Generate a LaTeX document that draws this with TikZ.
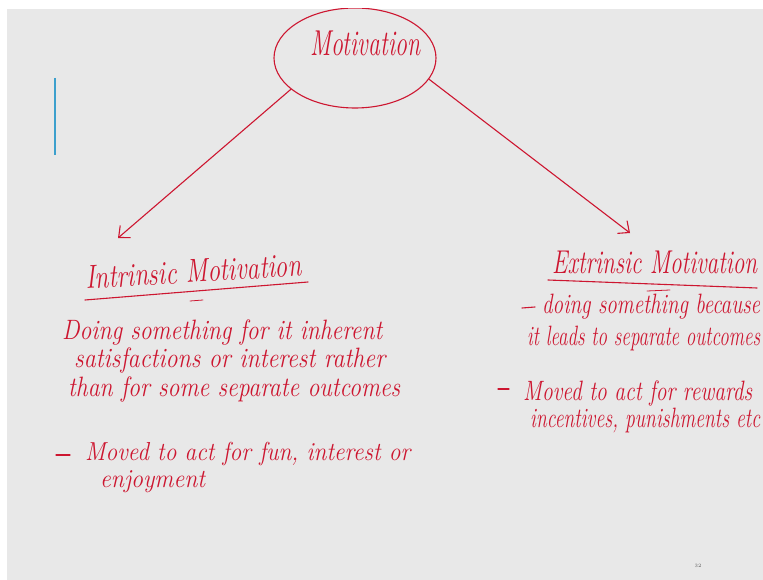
\documentclass[tikz,border=0pt]{standalone}
\usepackage{graphicx}
\usetikzlibrary{shapes.geometric,arrows.meta}
\definecolor{inkred}{RGB}{205,22,48}
\definecolor{slidebg}{RGB}{232,232,232}
\definecolor{cursorblue}{RGB}{60,160,205}
\definecolor{pagegray}{RGB}{90,90,90}
\newcommand{\hw}[2]{\resizebox{#1pt}{\height}{#2}}
\begin{document}
\begin{tikzpicture}[x=1pt,y=-1pt,
  hand/.style={text=inkred, anchor=base west, inner sep=0pt, font=\fontsize{28}{30}\selectfont\itshape},
  head/.style={hand, font=\fontsize{33}{35}\selectfont\itshape},
  ink/.style={draw=inkred, line width=1.1pt, line cap=round, line join=round},
  arr/.style={ink, -{Straight Barb[length=9pt,width=16pt]}}]
\useasboundingbox (0,0) rectangle (763,580);
\fill[white] (0,0) rectangle (763,580);
\fill[slidebg] (7,9) rectangle (763,580);
\begin{scope}
\clip (7,9) rectangle (763,580);
% cursor line
\draw[cursorblue, line width=1.3pt] (55,78) -- (55,155);
% central ellipse
\node[ellipse, ink, minimum width=162pt, minimum height=100pt, inner sep=0pt] (mot) at (355,58) {};
\node[hand, font=\fontsize{36}{38}\selectfont\itshape] (motlabel) at (310,56) {\hw{110}{Motivation}};
% arrow end points
\coordinate (intArrow) at (118,238);
\coordinate (extArrow) at (630,233);
\draw[arr] (mot.206) -- (intArrow);
\draw[arr] (mot.344) -- (extArrow);
% Intrinsic
\node[head, rotate=3.5] (inthead) at (86,289) {\hw{216}{Intrinsic Motivation}};
\draw[ink] (85,300) -- (308,282);
\draw[ink, line width=0.8pt] (190,301) -- (203,300);
\node[hand] (int1) at (62,339) {\hw{320}{Doing something for it inherent}};
\node[hand] (int2) at (74,367) {\hw{311}{satisfactions or interest rather}};
\node[hand] (int3) at (68,396) {\hw{332}{than for some separate outcomes}};
\draw[ink] (56,455) -- (70,455);
\node[hand, font=\fontsize{26}{28}\selectfont\itshape] (int4) at (85,460) {\hw{325}{Moved to act for fun, interest or}};
\node[hand, font=\fontsize{26}{28}\selectfont\itshape] (int5) at (100,487) {\hw{105}{enjoyment}};
% Extrinsic
\node[head] (exthead) at (552,273) {\hw{205}{Extrinsic Motivation}};
\draw[ink] (548,280) -- (757,288);
\draw[ink, line width=0.8pt] (647,291) -- (670,290);
\draw[ink] (522,308) -- (535,307);
\node[hand] (ext1) at (542,313) {\hw{218}{doing something because}};
\node[hand] (ext2) at (527,345) {\hw{233}{it leads to separate outcomes}};
\draw[ink] (498,389) -- (509,389);
\node[hand] (ext3) at (523,400) {\hw{229}{Moved to act for rewards}};
\node[hand] (ext4) at (530,427) {\hw{230}{incentives, punishments etc}};
% page number
\node[text=pagegray, font=\fontsize{5}{6}\selectfont, inner sep=0pt] (pagenum) at (698,566) {32};
\end{scope}
\end{tikzpicture}
\end{document}
